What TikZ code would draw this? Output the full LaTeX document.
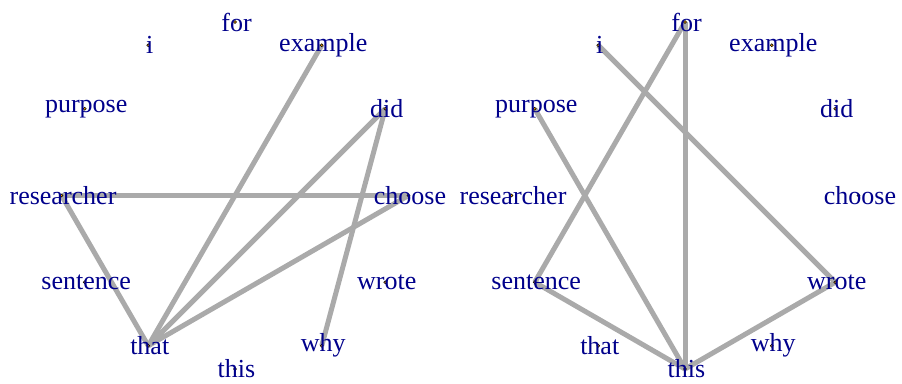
\documentclass[tikz,border=0pt]{standalone}
\usepackage{fontspec}
\setmainfont{Liberation Serif}
\definecolor{wordblue}{RGB}{0,0,139}
\definecolor{edgegray}{RGB}{170,170,170}
\definecolor{dotorange}{RGB}{255,165,0}
\begin{document}
\begin{tikzpicture}[x=1pt,y=-1pt,
  edge/.style={draw=edgegray,line width=5pt},
  wdot/.style={circle,fill=dotorange,draw=black,line width=0.4pt,inner sep=0pt,minimum size=3pt},
  word/.style={text=wordblue,font=\fontsize{26}{30}\selectfont,anchor=center,inner sep=0pt}]
\useasboundingbox (0,0) rectangle (902,383);
\foreach \side/\cx in {L/235,R/685}{
  \foreach \w [count=\i from 0] in {for,example,did,choose,wrote,why,this,that,sentence,researcher,purpose,i}{
    \coordinate (\side-\w) at ({\cx+173.5*cos(90-30*\i)},{195.5-173.5*sin(90-30*\i)});
  }
}
% left graph edges
\draw[edge] (L-example) -- (L-that);
\draw[edge] (L-did) -- (L-that);
\draw[edge] (L-did) -- (L-why);
\draw[edge] (L-researcher) -- (L-choose);
\draw[edge] (L-researcher) -- (L-that);
\draw[edge] (L-choose) -- (L-that);
% right graph edges
\draw[edge] (R-for) -- (R-sentence);
\draw[edge] (R-for) -- (R-this);
\draw[edge] (R-i) -- (R-wrote);
\draw[edge] (R-purpose) -- (R-this);
\draw[edge] (R-sentence) -- (R-this);
\draw[edge] (R-wrote) -- (R-this);
% dots and labels
\foreach \side in {L,R}{
  \foreach \w in {for,example,did,choose,wrote,why,this,that,sentence,researcher,purpose,i}{
    \node[wdot] (\side-\w-d) at (\side-\w) {};
    \node[word] (\side-\w-t) at ([shift={(1.5,0)}]\side-\w) {\w};
  }
}
\end{tikzpicture}
\end{document}
